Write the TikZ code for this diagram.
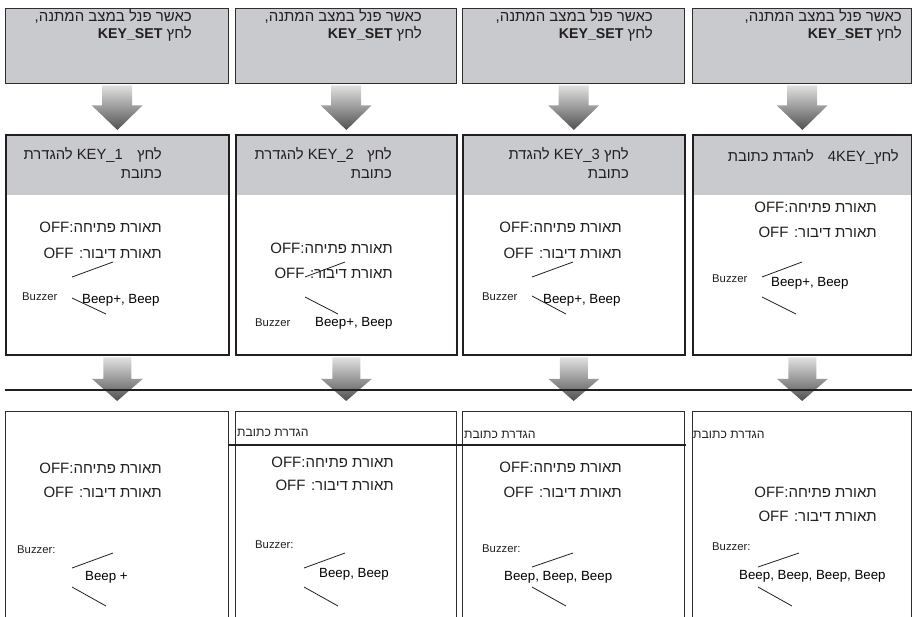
\documentclass[tikz,border=0pt]{standalone}
\usepackage{fontspec}
\setmainfont{Liberation Sans}
\newfontfamily\hebfont[Script=Hebrew]{Liberation Sans}
\TeXXeTstate=1
\usetikzlibrary{calc}
\definecolor{boxgray}{RGB}{200,202,205}
\definecolor{ink}{RGB}{35,31,32}
\definecolor{edge}{RGB}{45,45,45}
\definecolor{arrtop}{RGB}{225,225,225}
\definecolor{arrbot}{RGB}{80,80,80}
\newcommand{\hebtxt}[1]{{\hebfont\beginR #1\endR}}
\tikzset{
  topbox/.style={draw=edge, line width=1.3pt, fill=boxgray, inner sep=0pt, anchor=north west},
  midbox/.style={draw=ink, line width=1.8pt, inner sep=0pt, anchor=north west},
  botbox/.style={draw=edge, line width=1.3pt, inner sep=0pt, anchor=north west},
  toptext/.style={anchor=east, inner sep=0pt, text=ink, font=\fontsize{15}{17}\selectfont},
  hdrtext/.style={anchor=east, inner sep=0pt, text=ink, font=\fontsize{14.8}{17}\selectfont},
  bodytext/.style={anchor=east, inner sep=0pt, text=ink, font=\fontsize{15}{17}\selectfont},
  buzz/.style={anchor=west, inner sep=0pt, text=ink, font=\fontsize{11.3}{13}\selectfont},
  beep/.style={anchor=west, inner sep=0pt, text=black, font=\fontsize{13.3}{15}\selectfont},
  lbl/.style={anchor=west, inner sep=0pt, text=ink, font=\fontsize{12.2}{14}\selectfont},
  thin/.style={draw=ink, line width=0.8pt},
  sep/.style={draw=ink, line width=1.5pt},
  bigarrow/.style={top color=arrtop, bottom color=arrbot, draw=none}
}
\begin{document}
\begin{tikzpicture}[x=1pt,y=-1pt]
\clip (0,0) rectangle (912,616);
\fill[white] (0,0) rectangle (912,616);

% header fills of middle row
\foreach \xl/\xr in {5/228, 235/456, 462/684, 692/911}
  \fill[boxgray] (\xl,134) rectangle (\xr,195);

% boxes
\foreach \i/\xl/\xr in {1/5/228, 2/235/456, 3/462/684, 4/692/911}{
  \node[topbox, minimum width={(\xr-\xl)*1pt}, minimum height=75pt] (t\i) at (\xl,8) {};
  \node[midbox, minimum width={(\xr-\xl)*1pt}, minimum height=220pt] (m\i) at (\xl,134) {};
  \node[botbox, minimum width={(\xr-\xl)*1pt}, minimum height=230pt] (b\i) at (\xl,411) {};
}

% block arrows
\foreach \i in {1,2,3,4}{
  \shade[bigarrow] ($(t\i.south)+(-15,1)$) -- ($(t\i.south)+(15,1)$) -- ($(t\i.south)+(15,21)$)
     -- ($(t\i.south)+(25.5,21)$) -- ($(m\i.north)+(0,-4)$) -- ($(t\i.south)+(-25.5,21)$)
     -- ($(t\i.south)+(-15,21)$) -- cycle;
  \shade[bigarrow] ($(m\i.south)+(-14,1.5)$) -- ($(m\i.south)+(14,1.5)$) -- ($(m\i.south)+(14,23)$)
     -- ($(m\i.south)+(25.5,23)$) -- ($(b\i.north)+(0,-10)$) -- ($(m\i.south)+(-25.5,23)$)
     -- ($(m\i.south)+(-14,23)$) -- cycle;
}

% separator line
\coordinate (sepL) at (5,390);
\coordinate (sepM) at (458,390);
\coordinate (sepR) at (912,390);
\draw[ink, line width=2.6pt] (sepL) -- (sepM);
\draw[ink, line width=2pt] (sepM) -- (sepR);

% top row texts
\foreach \i/\xr in {1/192, 2/422, 3/653, 4/902}{
  \node[toptext] (ta\i) at (\xr,16) {\hebtxt{כאשר פנל במצב המתנה,}};
  \node[toptext] (tb\i) at (\xr,34) {\hebtxt{לחץ \beginL{\fontsize{14.2}{16}\selectfont\bfseries KEY\_SET}\endL}};
}

% middle headers
\node[hdrtext] (h1a) at (162,155) {\hebtxt{לחץ\hspace{10pt} \beginL KEY\_1\endL{} להגדרת}};
\node[hdrtext] (h1b) at (162,174) {\hebtxt{כתובת}};
\node[hdrtext] (h2a) at (392,155) {\hebtxt{לחץ\hspace{9pt} \beginL KEY\_2\endL{} להגדרת}};
\node[hdrtext] (h2b) at (392,174) {\hebtxt{כתובת}};
\node[hdrtext] (h3a) at (629,155) {\hebtxt{לחץ \beginL KEY\_3\endL{} להגדת}};
\node[hdrtext] (h3b) at (629,174) {\hebtxt{כתובת}};
\node[hdrtext] (h4a) at (899,157) {\hebtxt{לחץ\beginL 4KEY\_\endL\hspace{14pt}להגדת כתובת}};

% body texts
\foreach \n/\xr/\ya/\yb in {m1/162/227/253, m2/393/248/273, m3/622/227/253, m4/877/207/232,
                             b1/162/468/492, b2/394/462/485, b3/622/467/492, b4/877/492/516}{
  \node[bodytext] (\n o) at (\xr,\ya) {\hebtxt{תאורת פתיחה:\beginL OFF\endL}};
  \node[bodytext] (\n s) at (\xr,\yb) {\hebtxt{תאורת דיבור: \beginL OFF\endL}};
}

% buzzer labels
\node[buzz] (bz1) at (22,297) {Buzzer};
\node[buzz] (bz2) at (255,323) {Buzzer};
\node[buzz] (bz3) at (482,297) {Buzzer};
\node[buzz] (bz4) at (712,279) {Buzzer};
\node[buzz] (bz5) at (17,550) {Buzzer:};
\node[buzz] (bz6) at (255,545) {Buzzer:};
\node[buzz] (bz7) at (482,549) {Buzzer:};
\node[buzz] (bz8) at (712,547) {Buzzer:};

% beep texts
\node[beep] (bp1) at (82,300) {Beep+, Beep};
\node[beep] (bp2) at (315,323) {Beep+, Beep};
\node[beep] (bp3) at (543,300) {Beep+, Beep};
\node[beep] (bp4) at (771,283) {Beep+, Beep};
\node[beep] (bp5) at (85,577) {Beep +};
\node[beep] (bp6) at (319,574) {Beep, Beep};
\node[beep] (bp7) at (504,577) {Beep, Beep, Beep};
\node[beep] (bp8) at (739,576) {Beep, Beep, Beep, Beep};

% thin strokes
\foreach \a/\b/\c/\d/\e/\f/\g/\h in {
  72/277/113/262/72/298/106/314,
  305/277/345/262/305/297/338/314,
  532/277/573/262/532/296/566/314,
  762/277/802/262/762/297/796/314,
  72/568/113/553/72/587/106/606,
  304/568/345/553/304/587/338/606,
  532/567/573/553/532/587/566/606,
  758/567/799/553/758/587/792/606}{
  \draw[thin] (\a,\b) -- (\c,\d);
  \draw[thin] (\e,\f) -- (\g,\h);
}

% address-setting labels
\node[lbl] (l2) at (237,433) {\hebtxt{הגדרת כתובת}};
\node[lbl] (l3) at (464,435) {\hebtxt{הגדרת כתובת}};
\node[lbl] (l4) at (693,435) {\hebtxt{הגדרת כתובת}};
\coordinate (s2a) at (228,445);
\coordinate (s2b) at (460,445);
\coordinate (s3a) at (455,445);
\coordinate (s3b) at (686,445);
\draw[sep] (s2a) -- (s2b);
\draw[sep] (s3a) -- (s3b);
\end{tikzpicture}
\end{document}
